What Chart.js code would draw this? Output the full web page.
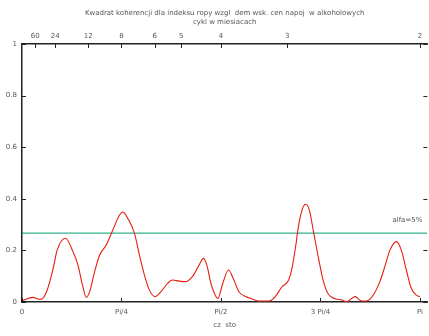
<!DOCTYPE html>
<html>
<head>
<meta charset="utf-8">
<script src="https://cdn.jsdelivr.net/npm/chart.js@4/dist/chart.umd.min.js"></script>
<style>
  html, body { margin: 0; padding: 0; background: #fff; }
  #wrap { width: 429px; height: 336px; }
</style>
</head>
<body>
<div id="wrap"><canvas id="c" width="429" height="336"></canvas></div>
<script>
// Squared coherence spectrum (frequency in radians, 0..Pi)
const freq = [
  0.005, 0.084, 0.147, 0.194, 0.246, 0.277, 0.343, 0.403, 0.442, 0.477,
  0.508, 0.534, 0.573, 0.613, 0.665, 0.717, 0.770, 0.797, 0.835, 0.888,
  0.927, 0.966, 1.005, 1.050, 1.097, 1.149, 1.188, 1.241, 1.294, 1.345,
  1.398, 1.432, 1.459, 1.495, 1.547, 1.581, 1.630, 1.667, 1.712, 1.765,
  1.817, 1.869, 1.948, 2.000, 2.052, 2.105, 2.131, 2.158, 2.184, 2.215,
  2.241, 2.268, 2.301, 2.341, 2.380, 2.419, 2.472, 2.524, 2.563, 2.629,
  2.681, 2.720, 2.773, 2.825, 2.864, 2.904, 2.956, 2.995, 3.034, 3.073,
  3.113, 3.1416
];
const coherence = [
  0.005, 0.018, 0.010, 0.040, 0.130, 0.200, 0.247, 0.195, 0.143, 0.066,
  0.018, 0.040, 0.117, 0.182, 0.221, 0.279, 0.337, 0.349, 0.324, 0.266,
  0.182, 0.105, 0.047, 0.021, 0.040, 0.072, 0.085, 0.081, 0.079, 0.098,
  0.143, 0.169, 0.143, 0.066, 0.014, 0.066, 0.124, 0.092, 0.040, 0.021,
  0.012, 0.004, 0.004, 0.021, 0.059, 0.085, 0.130, 0.208, 0.298, 0.363,
  0.379, 0.357, 0.273, 0.169, 0.079, 0.030, 0.013, 0.008, 0.001, 0.021,
  0.004, 0.004, 0.027, 0.079, 0.137, 0.200, 0.234, 0.200, 0.124, 0.053,
  0.027, 0.020
];
// 5% significance level
const alphaLevel = 0.267;

const freqTicks = [0, Math.PI / 4, Math.PI / 2, 3 * Math.PI / 4, Math.PI];
const freqLabels = ['0', 'Pi/4', 'Pi/2', '3 Pi/4', 'Pi'];
const periods = [60, 24, 12, 8, 6, 5, 4, 3, 2];
const coherenceTicks = [0, 0.2, 0.4, 0.6, 0.8, 1];
const coherenceLabels = ['0', '0.2', '0.4', '0.6', '0.8', '1'];

const FONT = 'DejaVu Sans, sans-serif';
const TEXT = '#555';
const AXIS = '#222';
const X_MAX = 3.2;

const curve = freq.map((f, i) => ({ x: f, y: coherence[i] }));
const alphaLine = [{ x: 0, y: alphaLevel }, { x: X_MAX, y: alphaLevel }];

// gnuplot-style ticks pointing into the plot area, plus the level label
const innerTicks = {
  id: 'innerTicks',
  afterDraw(chart) {
    const { ctx, chartArea: a, scales } = chart;
    const len = 4;
    ctx.save();
    ctx.strokeStyle = AXIS;
    ctx.lineWidth = 1;
    ctx.beginPath();
    scales.x.ticks.forEach(t => {
      const px = Math.round(scales.x.getPixelForValue(t.value)) + 0.5;
      ctx.moveTo(px, a.bottom); ctx.lineTo(px, a.bottom - len);
    });
    scales.x2.ticks.forEach(t => {
      const px = Math.round(scales.x2.getPixelForValue(t.value)) + 0.5;
      ctx.moveTo(px, a.top); ctx.lineTo(px, a.top + len);
    });
    scales.y.ticks.forEach(t => {
      const py = Math.round(scales.y.getPixelForValue(t.value)) + 0.5;
      ctx.moveTo(a.left, py); ctx.lineTo(a.left + len, py);
      ctx.moveTo(a.right, py); ctx.lineTo(a.right - len, py);
    });
    ctx.stroke();

    ctx.fillStyle = TEXT;
    ctx.font = '7px ' + FONT;
    ctx.textAlign = 'right';
    ctx.textBaseline = 'middle';
    ctx.fillText('alfa=5%', a.right - 5, scales.y.getPixelForValue(alphaLevel) - 13);
    ctx.restore();
  }
};

new Chart(document.getElementById('c'), {
  type: 'line',
  data: {
    datasets: [
      {
        data: curve,
        borderColor: '#e51e10',
        borderWidth: 1.1,
        pointRadius: 0,
        cubicInterpolationMode: 'monotone',
        xAxisID: 'x', yAxisID: 'y'
      },
      {
        data: alphaLine,
        borderColor: '#009e73',
        borderWidth: 1,
        pointRadius: 0,
        xAxisID: 'x', yAxisID: 'y'
      }
    ]
  },
  options: {
    responsive: false,
    animation: false,
    devicePixelRatio: 1,
    layout: { padding: 0 },
    plugins: { legend: { display: false }, tooltip: { enabled: false }, title: { display: false } },
    scales: {
      x: {
        type: 'linear', position: 'bottom', min: 0, max: X_MAX,
        afterBuildTicks: s => { s.ticks = freqTicks.map(v => ({ value: v })); },
        afterFit: s => { s.height = 34; },
        ticks: {
          autoSkip: false, maxRotation: 0, padding: 6, color: TEXT,
          font: { family: FONT, size: 7 },
          callback: (v, i) => freqLabels[i]
        },
        grid: { display: false, drawTicks: false },
        border: { display: true, color: AXIS, width: 1.5 },
        title: {
          display: true, text: 'cz  sto', color: TEXT,
          font: { family: FONT, size: 7, lineHeight: 1.3 },
          padding: { top: 0, bottom: 6.5 }
        }
      },
      x2: {
        type: 'linear', position: 'top', min: 0, max: X_MAX,
        afterBuildTicks: s => { s.ticks = periods.map(p => ({ value: 2 * Math.PI / p })); },
        afterFit: s => { s.height = 44; },
        ticks: {
          autoSkip: false, maxRotation: 0, padding: 4, color: TEXT,
          font: { family: FONT, size: 7 },
          callback: (v, i) => String(periods[i])
        },
        grid: { display: false, drawTicks: false },
        border: { display: true, color: AXIS, width: 1.5 },
        title: {
          display: true,
          text: ['Kwadrat koherencji dla indeksu ropy wzgl  dem wsk. cen napoj  w alkoholowych', 'cykl w miesiacach'],
          color: TEXT,
          font: { family: FONT, size: 7, lineHeight: 1.3 },
          padding: { top: 8.5, bottom: 0 }
        }
      },
      y: {
        type: 'linear', position: 'left', min: 0, max: 1,
        afterBuildTicks: s => { s.ticks = coherenceTicks.map(v => ({ value: v })); },
        afterFit: s => { s.width = 22; },
        ticks: {
          padding: 5, color: TEXT, font: { family: FONT, size: 7 },
          callback: (v, i) => coherenceLabels[i]
        },
        grid: { display: false, drawTicks: false },
        border: { display: true, color: AXIS, width: 1.5 }
      }
    }
  },
  plugins: [innerTicks]
});
</script>
</body>
</html>
